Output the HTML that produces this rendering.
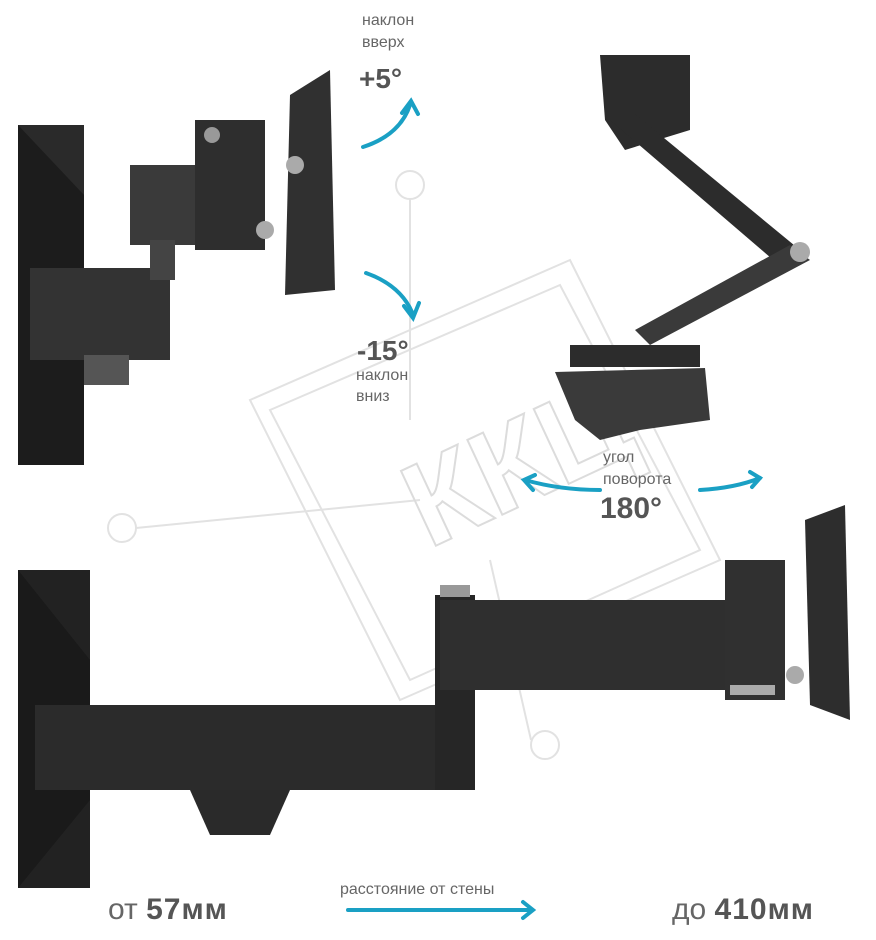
<!DOCTYPE html>
<html><head><meta charset="utf-8"><style>
html,body{margin:0;padding:0;background:#fff;}
svg{display:block;}
text{font-family:"Liberation Sans",sans-serif;}
</style></head><body>
<svg width="876" height="940" viewBox="0 0 876 940" xmlns="http://www.w3.org/2000/svg">
<!-- watermark -->
<g fill="none" stroke="#e2e2e2" stroke-width="2">
<circle cx="410" cy="185" r="14"/><line x1="410" y1="199" x2="410" y2="420"/>
<circle cx="122" cy="528" r="14"/><line x1="136" y1="528" x2="420" y2="500"/>
<circle cx="545" cy="745" r="14"/><line x1="531" y1="740" x2="490" y2="560"/>
<polygon points="250,400 570,260 720,560 400,700"/>
<polygon points="270,410 560,285 700,550 410,680"/>
<text x="400" y="520" font-size="120" font-weight="bold" fill="none" stroke="#dcdcdc" transform="rotate(-25 480 470)">ККЦ</text>
</g>
<!-- top-left mount -->
<g fill="#2a2a2a">
<rect x="18" y="125" width="66" height="340"/>
<polygon points="18,125 84,195 84,465 18,465" fill="#1c1c1c"/>
<rect x="30" y="268" width="140" height="92" fill="#333"/>
<rect x="84" y="355" width="45" height="30" fill="#555"/>
<rect x="130" y="165" width="115" height="80" fill="#3a3a3a"/>
<rect x="150" y="240" width="25" height="40" fill="#444"/>
<rect x="195" y="120" width="70" height="130" fill="#2e2e2e"/>
<polygon points="290,95 330,70 335,290 285,295" fill="#303030"/>
<circle cx="295" cy="165" r="9" fill="#aaa"/><circle cx="265" cy="230" r="9" fill="#aaa"/>
<circle cx="212" cy="135" r="8" fill="#999"/>
</g>
<!-- top-right mount -->
<g fill="#2c2c2c">
<polygon points="600,55 690,55 690,130 625,150 605,120"/>
<polygon points="610,120 630,110 800,250 785,270"/>
<polygon points="790,245 810,260 650,345 635,330" fill="#3a3a3a"/>
<circle cx="800" cy="252" r="10" fill="#aaa"/>
<rect x="570" y="345" width="130" height="22"/>
<polygon points="555,372 705,368 710,420 640,430 600,440 575,420" fill="#3a3a3a"/>
</g>
<!-- bottom mount -->
<g>
<rect x="18" y="570" width="72" height="318" fill="#222"/>
<polygon points="18,570 90,660 90,800 18,888" fill="#1a1a1a"/>
<rect x="35" y="705" width="420" height="85" fill="#2b2b2b"/>
<rect x="435" y="595" width="40" height="195" fill="#262626"/>
<rect x="440" y="600" width="330" height="90" fill="#2f2f2f"/>
<polygon points="190,790 290,790 270,835 210,835" fill="#2a2a2a"/>
<rect x="440" y="585" width="30" height="12" fill="#999"/>
<rect x="725" y="560" width="60" height="140" fill="#303030"/>
<polygon points="805,520 845,505 850,720 810,705" fill="#2d2d2d"/>
<circle cx="795" cy="675" r="9" fill="#aaa"/>
<rect x="730" y="685" width="45" height="10" fill="#aaa"/>
</g>
<!-- arrows -->
<g fill="none" stroke="#1aa0c4" stroke-width="4" stroke-linecap="round">
<path d="M363,147 Q400,135 410,105"/><path d="M402,113 L411,101 L418,114"/>
<path d="M366,273 Q400,285 412,312"/><path d="M404,306 L413,318 L419,303"/>
<path d="M525,480 Q560,490 600,490"/><path d="M535,475 L524,480 L533,490"/>
<path d="M700,490 Q735,488 760,478"/><path d="M750,472 L760,478 L752,487"/>
<line x1="348" y1="910" x2="532" y2="910"/><path d="M523,902 L533,910 L523,918"/>
</g>
<!-- text -->
<g fill="#666" font-size="16">
<text x="362" y="25">наклон</text><text x="362" y="47">вверх</text>
<text x="356" y="380">наклон</text><text x="356" y="401">вниз</text>
<text x="603" y="462">угол</text><text x="603" y="484">поворота</text>
<text x="340" y="894">расстояние от стены</text>
</g>
<g fill="#555" font-weight="bold">
<text x="359" y="88" font-size="28">+5°</text>
<text x="357" y="360" font-size="28">-15°</text>
<text x="600" y="518" font-size="30">180°</text>
</g>
<text x="108" y="919" font-size="30" fill="#666">от <tspan font-weight="bold" fill="#555" letter-spacing="1">57мм</tspan></text>
<text x="672" y="919" font-size="30" fill="#666">до <tspan font-weight="bold" fill="#555" letter-spacing="1">410мм</tspan></text>
</svg>
</body></html>
